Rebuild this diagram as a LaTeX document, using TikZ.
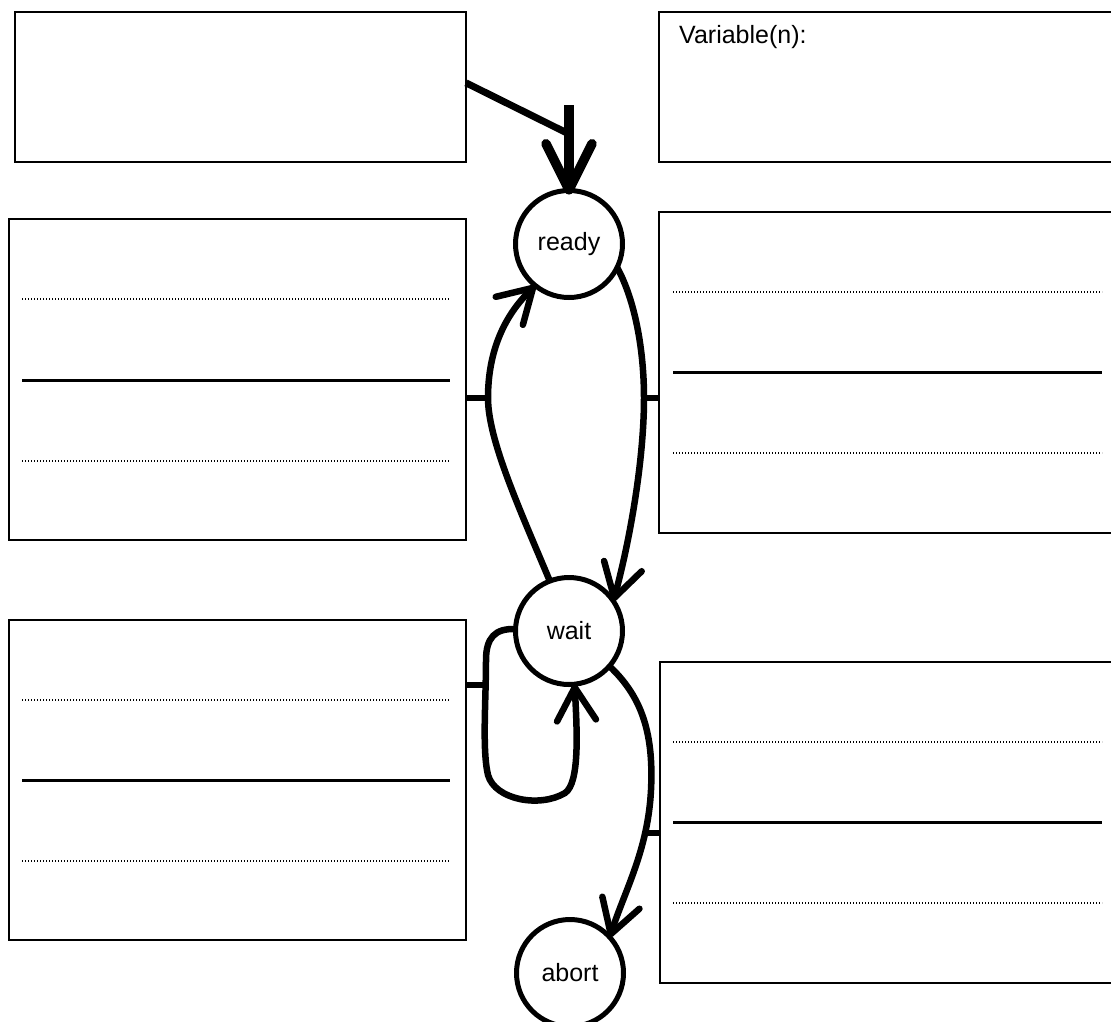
\documentclass[tikz,border=0pt]{standalone}
\usepackage{fontspec}
\setmainfont{Liberation Sans}
\usetikzlibrary{arrows.meta,calc}
\tikzset{
  box/.style={draw=black, line width=2pt, inner sep=0pt, outer sep=0pt, anchor=north west, fill=white},
  state/.style={circle, draw=black, line width=5pt, minimum size=107pt, inner sep=0pt, outer sep=0pt, fill=white},
  flow/.style={line width=6.5pt, -{Straight Barb[length=33pt,width=39pt,round]}},
  initarrow/.style={line width=9.5pt, -{Straight Barb[length=46pt,width=46pt,round]}},
  initline/.style={line width=7pt},
  stub/.style={line width=6.5pt},
  dotrule/.style={line width=1.3pt, dash pattern=on 1.2pt off 1.8pt, draw=black},
  solidrule/.style={line width=3pt},
}
\begin{document}
\begin{tikzpicture}[x=1pt,y=-1pt,font=\fontsize{25}{30}\selectfont]
\useasboundingbox (0,0) rectangle (1111,1021);
\clip (0,0) rectangle (1111,1021);

% boxes
\node[box, minimum width=451pt, minimum height=150.3pt] (tl) at (15,11.7) {};
\node[box, minimum width=470pt, minimum height=150.3pt] (tr) at (659,11.7) {};
\node[box, minimum width=457.5pt, minimum height=321pt] (lm) at (8.5,219) {};
\node[box, minimum width=470pt, minimum height=321pt] (rm) at (659,212) {};
\node[box, minimum width=457.5pt, minimum height=320pt] (lb) at (8.5,620) {};
\node[box, minimum width=470pt, minimum height=321pt] (rb) at (660,662) {};

\node[anchor=base west, inner sep=0pt] (var) at (679,43) {Variable(n):};

% rules inside boxes
\draw[dotrule] (22,299) -- (450,299);
\draw[solidrule] (22,380) -- (450,380);
\draw[dotrule] (22,461) -- (450,461);

\draw[dotrule] (22,700) -- (450,700);
\draw[solidrule] (22,780) -- (450,780);
\draw[dotrule] (22,861) -- (450,861);

\draw[dotrule] (673,292) -- (1102,292);
\draw[solidrule] (673,372) -- (1102,372);
\draw[dotrule] (673,453) -- (1102,453);

\draw[dotrule] (673,742) -- (1102,742);
\draw[solidrule] (673,822) -- (1102,822);
\draw[dotrule] (673,903) -- (1102,903);

% states
\node[state] (ready) at (569,244) {ready};
\node[state] (wait) at (569,631) {wait};
\node[state] (abort) at (570,973) {abort};

% junction coordinates
\coordinate (j0) at (567,133);
\coordinate (s0) at (569,105);
\coordinate (jl1) at (488,398);
\coordinate (jr1) at (644,398);
\coordinate (jl2) at (486,685);
\coordinate (jr2) at (645,833);

% initial arrow
\draw[initline] ([yshift=4pt]tl.east) -- (j0);
\draw[initarrow] (s0) -- ([yshift=-4pt]ready.north);

% ready -> wait
\draw[flow] (ready.-26) .. controls (635,300) and (644,350) .. (jr1)
  .. controls (644,460) and (630,540) .. (wait.34);
% wait -> ready
\draw[flow] (wait.111) .. controls (520,510) and (488,440) .. (jl1)
  .. controls (488,350) and (505,315) .. (ready.-129);
% wait self loop
\draw[flow] (wait.178) .. controls (495,628) and (486,638) .. (486,660)
  .. controls (486,700) and (482,750) .. (488,775)
  .. controls (495,800) and (540,808) .. (565,793)
  .. controls (580,783) and (577,730) .. (wait.-84);
% wait -> abort
\draw[flow] (wait.-41) .. controls (640,695) and (654,730) .. (651,790)
  .. controls (648,850) and (625,890) .. (abort.42);

% stubs from boxes
\draw[stub] (lm.east |- jl1) -- (jl1);
\draw[stub] (rm.west |- jr1) -- (jr1);
\draw[stub] (lb.east |- jl2) -- (jl2);
\draw[stub] (rb.west |- jr2) -- (jr2);
\end{tikzpicture}
\end{document}
